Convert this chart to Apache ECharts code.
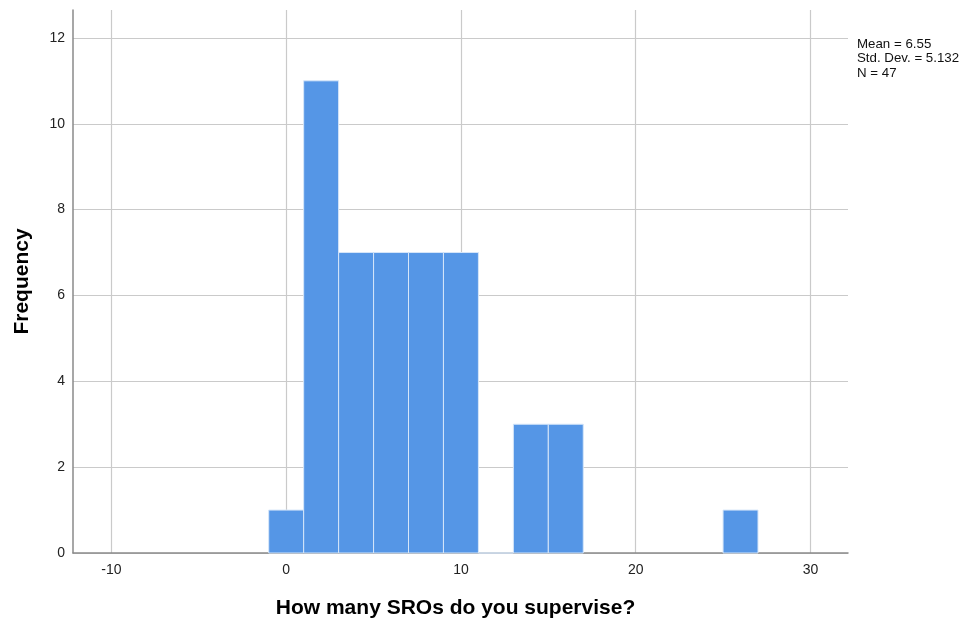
<!DOCTYPE html>
<html>
<head>
<meta charset="utf-8">
<script src="https://cdn.jsdelivr.net/npm/echarts@6/dist/echarts.min.js"></script>
<style>
  html, body { margin: 0; padding: 0; background: #fff; }
  #chart { width: 973px; height: 622px; }
</style>
</head>
<body>
<div id="chart"></div>
<script>
// histogram bins (width 2), counts
const binStarts = [-1, 1, 3, 5, 7, 9, 11, 13, 15, 25]
const binEnds = [1, 3, 5, 7, 9, 11, 13, 15, 17, 27]
const counts = [1, 11, 7, 7, 7, 7, 0, 3, 3, 1]
const xTicks = [-10, 0, 10, 20, 30]
const yTicks = [0, 2, 4, 6, 8, 10, 12]
const statsLines = ['Mean = 6.55', 'Std. Dev. = 5.132', 'N = 47']

const font = '"Liberation Sans", Arial, sans-serif'
const data = binStarts.map((s, i) => [s, binEnds[i], counts[i]])

const chart = echarts.init(document.getElementById('chart'))

chart.setOption({
  animation: false,
  backgroundColor: '#fff',
  grid: {
    left: 73,
    right: 125,
    top: 10,
    bottom: 69,
    outerBoundsMode: 'none'
  },
  xAxis: {
    type: 'value',
    min: -12.2,
    max: 32.15,
    name: 'How many SROs do you supervise?',
    nameLocation: 'middle',
    nameGap: 45,
    nameTextStyle: {
      fontFamily: font,
      fontSize: 21,
      fontWeight: 'bold',
      color: '#000',
      padding: [0, 10, 0, 0]
    },
    axisLine: { show: true, onZero: false, lineStyle: { color: '#8a8a8a', width: 1.5 } },
    axisTick: { show: false, customValues: xTicks },
    axisLabel: {
      customValues: xTicks,
      margin: 10,
      fontFamily: font,
      fontSize: 14,
      color: '#222'
    },
    splitLine: { show: true, lineStyle: { color: '#cacaca', width: 1.2 } }
  },
  yAxis: {
    type: 'value',
    min: 0,
    max: 12.65,
    name: 'Frequency',
    nameLocation: 'middle',
    nameGap: 40,
    nameTextStyle: {
      fontFamily: font,
      fontSize: 21,
      fontWeight: 'bold',
      color: '#000'
    },
    axisLine: { show: true, onZero: false, lineStyle: { color: '#8a8a8a', width: 1.5 } },
    axisTick: { show: false, customValues: yTicks },
    axisLabel: {
      customValues: yTicks,
      margin: 8,
      fontFamily: font,
      fontSize: 14,
      color: '#222'
    },
    splitLine: { show: true, lineStyle: { color: '#cacaca', width: 1.2 } }
  },
  graphic: [{
    type: 'text',
    left: 857,
    top: 37,
    style: {
      text: statsLines.join('\n'),
      fontFamily: font,
      fontSize: 13.3,
      lineHeight: 14.5,
      fill: '#111'
    }
  }],
  series: [{
    type: 'custom',
    encode: { x: [0, 1], y: 2 },
    data: data,
    renderItem(params, api) {
      const top = api.coord([api.value(0), api.value(2)])
      const bottom = api.coord([api.value(1), 0])
      return {
        type: 'rect',
        shape: {
          x: top[0],
          y: top[1],
          width: bottom[0] - top[0],
          height: bottom[1] - top[1]
        },
        style: {
          fill: '#5596e6',
          stroke: '#d6e6f9',
          lineWidth: 1
        }
      }
    }
  }]
})
</script>
</body>
</html>
